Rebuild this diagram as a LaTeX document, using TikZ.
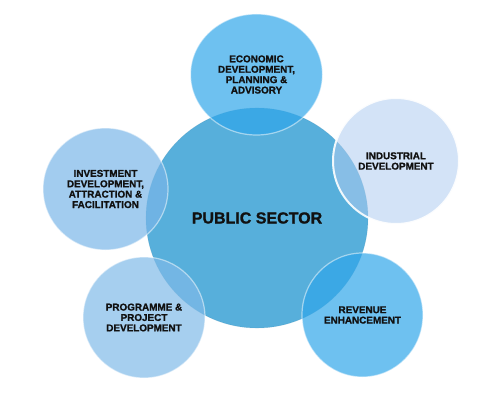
\documentclass[tikz,border=0pt]{standalone}
\usepackage{fontspec}
\setmainfont{Liberation Sans}[BoldFeatures={FakeBold=1.2}]
\usepackage{xcolor}
\usetikzlibrary{
  shapes.geometric,
  positioning
}
\definecolor{psHub}{HTML}{57AFDB}
\definecolor{psSky}{HTML}{30A6EA}
\definecolor{psPale}{HTML}{AFCCF0}
\definecolor{psSoft}{HTML}{7AB6E8}
\definecolor{psMild}{HTML}{80BAE8}
\definecolor{psInk}{HTML}{111111}
\tikzset{
  psnode/.style={
    ellipse, inner sep=0pt, align=center, text=psInk, text opacity=1,
    font=\fontsize{9.9}{10.4}\selectfont\bfseries
  },
  hub/.style={psnode, fill=psHub, draw=psHub!80!black, draw opacity=0.25,
    line width=0.6pt, font=\fontsize{16}{18}\selectfont\bfseries},
  spoke/.style={psnode, fill opacity=0.7, draw=white, draw opacity=0.5, line width=1.2pt},
  pale/.style={spoke, fill=psPale, fill opacity=0.55, draw opacity=0.9, line width=2pt}
}
\begin{document}
\begin{tikzpicture}[x=1pt, y=1pt]
  \useasboundingbox (0,0) rectangle (500,400);
  \node[hub, minimum width=222pt, minimum height=220pt] (pub) at (257,182) {PUBLIC SECTOR};
  \node[spoke, fill=psSky, minimum width=132pt, minimum height=121pt] (econ) at (256.5,325.5)
    {ECONOMIC\\DEVELOPMENT,\\PLANNING \&\\ADVISORY};
  \node[pale, minimum width=126pt, minimum height=126pt] (indus) at (396,239)
    {INDUSTRIAL\\DEVELOPMENT};
  \node[spoke, fill=psSky, minimum width=121pt, minimum height=124pt] (rev) at (362.5,85)
    {REVENUE\\ENHANCEMENT};
  \node[spoke, fill=psMild, minimum width=122pt, minimum height=121pt] (prog) at (144,82.5)
    {PROGRAMME \&\\PROJECT\\DEVELOPMENT};
  \node[spoke, fill=psSoft, minimum width=125pt, minimum height=122pt] (inv) at (105.5,211)
    {INVESTMENT\\DEVELOPMENT,\\ATTRACTION \&\\FACILITATION};
\end{tikzpicture}
\end{document}
